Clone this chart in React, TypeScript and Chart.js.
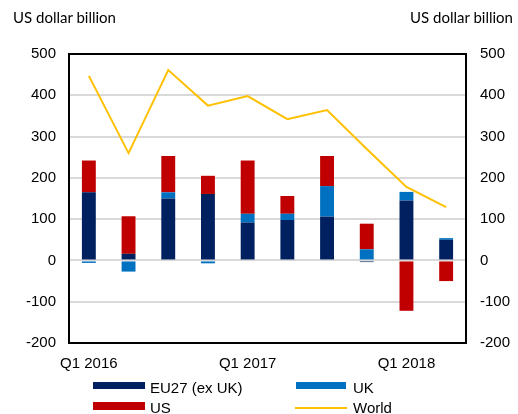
import React, { useEffect, useRef } from "react";
import { Chart, registerables } from "chart.js";
Chart.register(...registerables);

const categories = [
  "Q1 2016", "Q2 2016", "Q3 2016", "Q4 2016",
  "Q1 2017", "Q2 2017", "Q3 2017", "Q4 2017",
  "Q1 2018", "Q2 2018",
];
const tickLabels = ["Q1 2016", "", "", "", "Q1 2017", "", "", "", "Q1 2018", ""];
const eu27 = [165, 16, 150, 161, 92, 98, 106, -4, 145, 50];
const uk = [-6, -27, 15, -7, 21, 15, 74, 27, 21, 4];
const us = [77, 91, 88, 44, 129, 43, 73, 62, -122, -50];
const world = [447, 260, 461, 375, 398, 342, 364, 270, 178, 129];
const yMin = -200;
const yMax = 500;
const yStep = 100;

const NAVY = "#002060";
const BLUE = "#0070c0";
const RED = "#c00000";
const YELLOW = "#ffc000";
const FONT = "'Liberation Sans', Arial, sans-serif";

const borderPlugin = {
  id: "plotBorder",
  afterDraw(chart: any) {
    const { ctx, chartArea } = chart;
    ctx.save();
    ctx.strokeStyle = "#000";
    ctx.lineWidth = 2;
    ctx.strokeRect(chartArea.left, chartArea.top, chartArea.right - chartArea.left, chartArea.bottom - chartArea.top);
    ctx.restore();
  },
};

export default function App() {
  const ref = useRef<HTMLCanvasElement | null>(null);
  useEffect(() => {
    if (!ref.current) return;
    const tickFont = { family: FONT, size: 15 };
    const chart = new Chart(ref.current, {
      type: "bar",
      data: {
        labels: categories,
        datasets: [
          { type: "line", label: "World", data: world, borderColor: YELLOW, backgroundColor: YELLOW, borderWidth: 2, pointRadius: 0, tension: 0, yAxisID: "y2", order: 0 } as any,
          { label: "EU27 (ex UK)", data: eu27, backgroundColor: NAVY, yAxisID: "y", order: 1 },
          { label: "UK", data: uk, backgroundColor: BLUE, yAxisID: "y", order: 1 },
          { label: "US", data: us, backgroundColor: RED, yAxisID: "y", order: 1 },
        ],
      },
      options: {
        animation: false,
        responsive: false,
        maintainAspectRatio: false,
        layout: { padding: { top: 54, left: 0, right: 0, bottom: 0 } },
        datasets: { bar: { barPercentage: 0.35, categoryPercentage: 1 } } as any,
        plugins: { legend: { display: false }, tooltip: { enabled: false } },
        scales: {
          x: {
            stacked: true,
            grid: { display: false, drawTicks: false },
            border: { display: false },
            ticks: {
              autoSkip: false,
              maxRotation: 0,
              color: "#000",
              font: tickFont,
              padding: 12,
              callback: (_v: any, i: number) => tickLabels[i],
            },
            afterFit: (s: any) => { s.height = 71; },
          },
          y: {
            stacked: true,
            position: "left",
            min: yMin,
            max: yMax,
            grid: { color: "#d9d9d9", lineWidth: 2, drawTicks: false },
            border: { display: false },
            ticks: { stepSize: yStep, color: "#000", font: tickFont, padding: 13 },
            afterFit: (s: any) => { s.width = 69; },
          },
          y2: {
            position: "right",
            min: yMin,
            max: yMax,
            grid: { display: false, drawTicks: false },
            border: { display: false },
            ticks: { stepSize: yStep, color: "#000", font: tickFont, padding: 14 },
            afterFit: (s: any) => { s.width = 52; },
          },
        } as any,
      },
      plugins: [borderPlugin],
    });
    return () => chart.destroy();
  }, []);

  const text: React.CSSProperties = { position: "absolute", fontFamily: FONT, fontSize: 15, lineHeight: "16px", color: "#000", whiteSpace: "nowrap" };
  const title: React.CSSProperties = { position: "absolute", fontFamily: "Lato, sans-serif", fontSize: 15, lineHeight: "18px", color: "#000", whiteSpace: "nowrap", top: 8 };
  return (
    <div style={{ position: "fixed", left: 0, top: 0, width: 518, height: 414, background: "#fff", overflow: "hidden" }}>
      <canvas ref={ref} width={518} height={414} style={{ position: "absolute", left: 0, top: 0, width: 518, height: 414 }} />
      <div style={{ ...title, left: 13 }}>US dollar billion</div>
      <div style={{ ...title, right: 5 }}>US dollar billion</div>
      <div style={{ position: "absolute", left: 93, top: 382, width: 52, height: 7, background: NAVY }} />
      <div style={{ ...text, left: 150, top: 380 }}>EU27 (ex UK)</div>
      <div style={{ position: "absolute", left: 296, top: 382, width: 50, height: 7, background: BLUE }} />
      <div style={{ ...text, left: 353, top: 380 }}>UK</div>
      <div style={{ position: "absolute", left: 93, top: 402, width: 52, height: 8, background: RED }} />
      <div style={{ ...text, left: 150, top: 400 }}>US</div>
      <div style={{ position: "absolute", left: 295, top: 407, width: 52, height: 2, background: YELLOW }} />
      <div style={{ ...text, left: 353, top: 400 }}>World</div>
    </div>
  );
}
